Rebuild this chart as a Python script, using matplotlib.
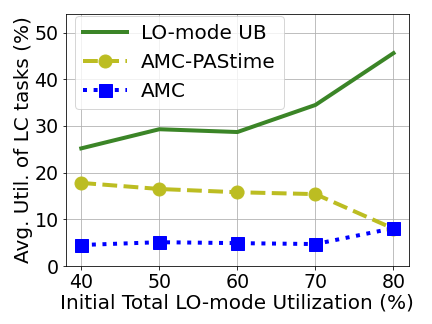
import numpy as np
import matplotlib.pyplot as plt

# initial total LO-mode utilization (%)
util = [40, 50, 60, 70, 80]

lo_ub = [25.2, 29.3, 28.7, 34.5, 45.6]
amc_pastime = [17.8, 16.5, 15.8, 15.4, 8.0]
amc = [4.5, 5.1, 4.9, 4.7, 8.1]

plt.rcParams['font.size'] = 20

fig, ax = plt.subplots(figsize=(6, 4.5), dpi=72)
ax.plot(util, lo_ub, color='#3b8527', lw=4, label='LO-mode UB')
ax.plot(util, amc_pastime, color='#bcbd22', lw=4, ls='--', marker='o', ms=13,
        label='AMC-PAStime')
ax.plot(util, amc, color='blue', lw=4, ls=':', marker='s', ms=13, label='AMC')

ax.set_ylim(0, 54)
ax.set_xticks(util)
ax.set_yticks(np.arange(0, 51, 10))
ax.tick_params(labelsize=19)
ax.grid(True)
ax.set_xlabel('Initial Total LO-mode Utilization (%)', fontsize=20, labelpad=1)
ax.set_ylabel('Avg. Util. of LC tasks (%)', fontsize=20, labelpad=1)
ax.legend(loc='upper left', bbox_to_anchor=(0.028, 0.992), borderaxespad=0,
          fontsize=20, handlelength=2.2, handletextpad=0.7)

fig.subplots_adjust(left=0.152, right=0.947, bottom=0.179, top=0.957)
fig.savefig('out.png')
